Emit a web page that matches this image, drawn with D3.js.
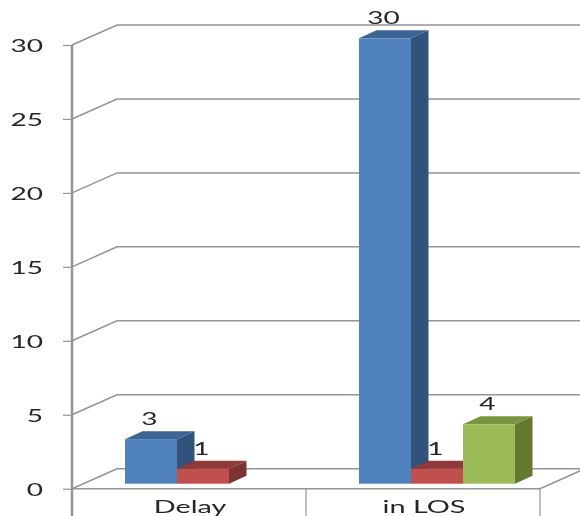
<!DOCTYPE html>
<html>
<head>
<meta charset="utf-8">
<script src="https://d3js.org/d3.v7.min.js"></script>
<style>
  html, body { margin: 0; padding: 0; background: #fff; overflow: hidden; }
  svg { filter: blur(0.4px); }
  text { font-family: Lato, sans-serif; fill: #262626; }
</style>
</head>
<body>
<div id="chart"></div>
<script>
var categories = ["Delay", "in LOS"];
var seriesNames = ["a", "b", "c"];
var seriesA = [3, 30];
var seriesB = [1, 1];
var seriesC = [null, 4];
var yTicks = [0, 5, 10, 15, 20, 25, 30];
var frontColors = ["#4f81bd", "#c0504d", "#9bbb59"];
var sideColors = ["#31527a", "#7d3331", "#64782f"];
var topColors = ["#3c6596", "#8f3a38", "#7a9440"];

var width = 580, height = 516;

// depth of the back wall and of the bars
var wallX = 45, wallY = 20;
var barX = 17.5, barY = 8;
var textStretch = 1.65;

var svg = d3.select("#chart").append("svg")
  .attr("width", width)
  .attr("height", height);

var y = d3.scaleLinear().domain([0, 30]).range([488.7, 45]);
// bars stand a little in front of the axis plane
var yBar = d3.scaleLinear().domain([0, 30]).range([483.7, 38.3]);
var x = d3.scaleBand().domain(categories).range([72, 540]);
var xBar = d3.scaleBand().domain(seriesNames).range([53, 209]);

var grid = "#949494";

// walls
svg.append("g").selectAll("path")
  .data(yTicks)
  .enter()
  .append("path")
  .attr("d", function(d) {
    return d3.line()([[72, y(d)], [72 + wallX, y(d) - wallY], [width, y(d) - wallY]]);
  })
  .attr("fill", "none")
  .attr("stroke", grid)
  .attr("stroke-width", 1.5);

// floor, front edge and right side
svg.append("path")
  .attr("d", d3.line()([[72, y(0)], [540, y(0)], [540 + wallX, y(0) - wallY]]))
  .attr("fill", "none")
  .attr("stroke", grid)
  .attr("stroke-width", 1.5);

// category separators, they run off the page
svg.append("g").selectAll("line")
  .data([x("in LOS"), x.range()[1]])
  .enter()
  .append("line")
  .attr("x1", function(d) { return d; })
  .attr("x2", function(d) { return d; })
  .attr("y1", y(0))
  .attr("y2", height)
  .attr("stroke", grid)
  .attr("stroke-width", 1.2);

// bars
function addBars(values, s) {
  var name = seriesNames[s];
  var bars = svg.append("g").selectAll("g")
    .data(values.map(function(v, i) { return {cat: categories[i], v: v}; })
      .filter(function(d) { return d.v !== null; }))
    .enter()
    .append("g")
    .attr("transform", function(d) {
      return "translate(" + (x(d.cat) + xBar(name)) + ",0)";
    });

  var w = xBar.bandwidth();
  var base = yBar(0);

  bars.append("path")
    .attr("d", function(d) {
      var t = yBar(d.v);
      return d3.line()([[w, t], [w + barX, t - barY], [w + barX, base - barY], [w, base]]) + "Z";
    })
    .attr("fill", sideColors[s]);

  bars.append("path")
    .attr("d", function(d) {
      var t = yBar(d.v);
      return d3.line()([[0, t], [barX, t - barY], [w + barX, t - barY], [w, t]]) + "Z";
    })
    .attr("fill", topColors[s]);

  bars.append("rect")
    .attr("x", 0)
    .attr("y", function(d) { return yBar(d.v); })
    .attr("width", w)
    .attr("height", function(d) { return base - yBar(d.v); })
    .attr("fill", frontColors[s]);

  return bars;
}

var allBars = [addBars(seriesA, 0), addBars(seriesB, 1), addBars(seriesC, 2)];

// value labels go on top of everything
allBars.forEach(function(bars) {
  bars.append("text")
    .attr("transform", function(d) {
      return "translate(" + (xBar.bandwidth() / 2 - 1.5) + "," + (yBar(d.v) - 14) + ") scale(" + textStretch + ",1)";
    })
    .attr("text-anchor", "middle")
    .style("font-size", "17px")
    .text(function(d) { return d.v; });
});

// Y axis
var yAxis = svg.append("g")
  .attr("transform", "translate(72,0)")
  .call(d3.axisLeft(y).tickValues(yTicks).tickSize(9).tickPadding(0));
yAxis.select(".domain").remove();
yAxis.selectAll("line").attr("stroke", grid).attr("stroke-width", 1.2);
yAxis.selectAll("text")
  .attr("x", null)
  .attr("dy", null)
  .attr("text-anchor", "end")
  .style("font-size", "17px")
  .attr("transform", function(d) {
    return "translate(-29," + 6.5 + ") scale(" + textStretch + ",1)";
  });

svg.append("line")
  .attr("x1", 72).attr("x2", 72)
  .attr("y1", y(30)).attr("y2", height)
  .attr("stroke", grid)
  .attr("stroke-width", 2.5);

// X axis
var xAxis = svg.append("g")
  .attr("transform", "translate(0," + y(0) + ")")
  .call(d3.axisBottom(x).tickSize(0));
xAxis.select(".domain").remove();
xAxis.selectAll("text")
  .attr("y", null)
  .attr("dy", null)
  .style("font-size", "17.5px")
  .attr("transform", "translate(1,24.5) scale(" + textStretch + ",1)");
</script>
</body>
</html>
